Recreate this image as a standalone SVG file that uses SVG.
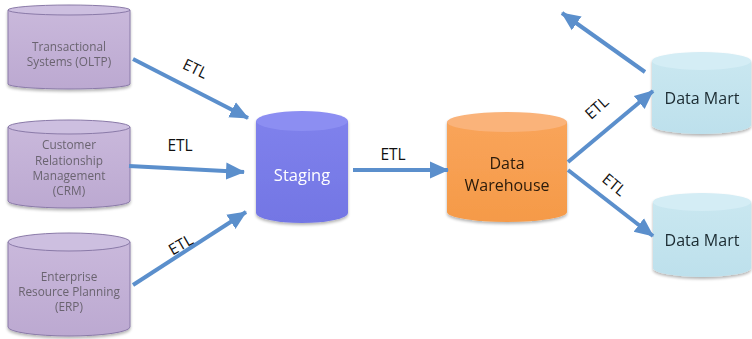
<svg xmlns="http://www.w3.org/2000/svg" width="752" height="339" viewBox="0 0 752 339">
<defs>
<marker id="ah" markerUnits="userSpaceOnUse" markerWidth="20" markerHeight="20" viewBox="0 0 20 20" refX="18" refY="10" orient="auto">
<path d="M0,1.5 L19,10 L0,18.5 Z" fill="#5b8fcc"/>
</marker>
<linearGradient id="gp" x1="0" y1="0" x2="0" y2="1"><stop offset="0" stop-color="#c9b8db"/><stop offset="1" stop-color="#bca9d1"/></linearGradient>
<linearGradient id="gs" x1="0" y1="0" x2="0" y2="1"><stop offset="0" stop-color="#7f81ec"/><stop offset="1" stop-color="#7376e4"/></linearGradient>
<linearGradient id="go" x1="0" y1="0" x2="0" y2="1"><stop offset="0" stop-color="#f9a45a"/><stop offset="1" stop-color="#f59a48"/></linearGradient>
<linearGradient id="gb" x1="0" y1="0" x2="0" y2="1"><stop offset="0" stop-color="#c9e7f0"/><stop offset="1" stop-color="#bde0ec"/></linearGradient>
<filter id="sh" x="-10%" y="-10%" width="120%" height="130%"><feGaussianBlur in="SourceAlpha" stdDeviation="1.5"/><feOffset dy="2"/><feComponentTransfer><feFuncA type="linear" slope="0.3"/></feComponentTransfer><feMerge><feMergeNode/><feMergeNode in="SourceGraphic"/></feMerge></filter>
</defs>
<style>
.src{font-family:"Open Sans","Liberation Sans",sans-serif;font-size:11.8px;fill:#6a6470;text-anchor:middle}
.etl{font-family:"Open Sans","Liberation Sans",sans-serif;font-size:15.5px;fill:#111;text-anchor:middle}
.lbl{font-family:"Open Sans","Liberation Sans",sans-serif;font-size:16px;text-anchor:middle}
.pb{fill:url(#gp);stroke:#8a7aa8;stroke-width:1}
.pt{fill:#cdbfe0;stroke:#8a7aa8;stroke-width:1}
.conn{stroke:#5b8fcc;stroke-width:4;fill:none;marker-end:url(#ah)}
</style>
<rect width="752" height="339" fill="#ffffff"/>

<g id="oltp" filter="url(#sh)">
<path class="pb" d="M8,10 L8,84 A61,5 0 0 0 130,84 L130,10 Z"/>
<ellipse class="pt" cx="69" cy="10" rx="61" ry="5"/>
<text class="src" x="69" y="51">Transactional</text>
<text class="src" x="69" y="66">Systems (OLTP)</text>
</g>

<g id="crm" filter="url(#sh)">
<path class="pb" d="M8,127 L8,201 A61,7 0 0 0 130,201 L130,127 Z"/>
<ellipse class="pt" cx="69" cy="127" rx="61" ry="7"/>
<text class="src" x="69" y="149">Customer</text>
<text class="src" x="69" y="165">Relationship</text>
<text class="src" x="69" y="180">Management</text>
<text class="src" x="69" y="195">(CRM)</text>
</g>

<g id="erp" filter="url(#sh)">
<path class="pb" d="M8,242 L8,327 A61,9 0 0 0 130,327 L130,242 Z"/>
<ellipse class="pt" cx="69" cy="242" rx="61" ry="9"/>
<text class="src" x="69" y="281">Enterprise</text>
<text class="src" x="69" y="296">Resource Planning</text>
<text class="src" x="69" y="311">(ERP)</text>
</g>

<g id="staging" filter="url(#sh)">
<path d="M256,121 L256,213 A46,10 0 0 0 348,213 L348,121 Z" fill="url(#gs)"/>
<ellipse cx="302" cy="121" rx="46" ry="10" fill="#8c8ef2"/>
<text class="lbl" x="302" y="181" fill="#ffffff" style="font-size:16.5px">Staging</text>
</g>

<g id="dw" filter="url(#sh)">
<path d="M447,122 L447,212 A60,10 0 0 0 567,212 L567,122 Z" fill="url(#go)"/>
<ellipse cx="507" cy="122" rx="60" ry="10" fill="#fab37a"/>
<text class="lbl" x="507" y="169" fill="#2a1a0a">Data</text>
<text class="lbl" x="507" y="191" fill="#2a1a0a">Warehouse</text>
</g>

<g id="mart1" filter="url(#sh)">
<path d="M652,61 L652,125 A49.5,9 0 0 0 751,125 L751,61 Z" fill="url(#gb)"/>
<ellipse cx="701.5" cy="61" rx="49.5" ry="9" fill="#d4edf5"/>
<text class="lbl" x="702" y="104" fill="#1a2a30">Data Mart</text>
</g>

<g id="mart2" filter="url(#sh)">
<path d="M653,202 L653,268 A49,9 0 0 0 751,268 L751,202 Z" fill="url(#gb)"/>
<ellipse cx="702" cy="202" rx="49" ry="9" fill="#d4edf5"/>
<text class="lbl" x="702" y="246" fill="#1a2a30">Data Mart</text>
</g>

<g id="connectors">
<line class="conn" x1="133" y1="59" x2="248" y2="118"/>
<line class="conn" x1="129" y1="166" x2="244" y2="172"/>
<line class="conn" x1="133" y1="285" x2="246" y2="212"/>
<line class="conn" x1="353" y1="170" x2="448" y2="170"/>
<line class="conn" x1="568" y1="162" x2="653" y2="91"/>
<line class="conn" x1="568" y1="170" x2="653" y2="236"/>
<line class="conn" x1="645" y1="72" x2="562" y2="13"/>
<text class="etl" x="195" y="74" transform="rotate(26 195 69)">ETL</text>
<text class="etl" x="180" y="151">ETL</text>
<text class="etl" x="181" y="250" transform="rotate(-30 181 245)">ETL</text>
<text class="etl" x="393" y="160">ETL</text>
<text class="etl" x="597" y="113" transform="rotate(-42 597 108)">ETL</text>
<text class="etl" x="614" y="190" transform="rotate(40 614 185)">ETL</text>
</g>
</svg>
